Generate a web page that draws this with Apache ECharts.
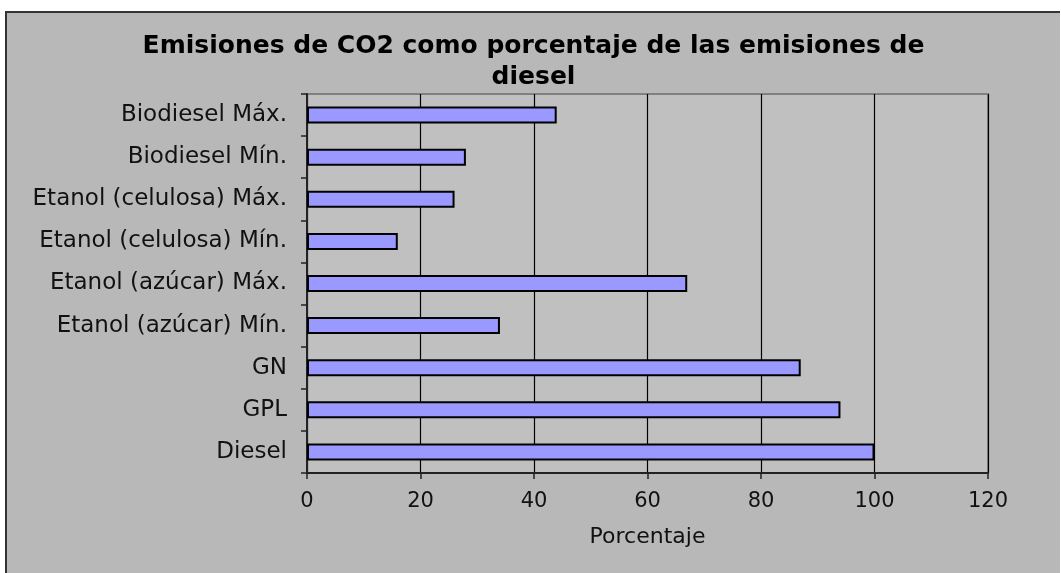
<!DOCTYPE html>
<html>
<head>
<meta charset="utf-8">
<title>Emisiones de CO2</title>
<script src="https://cdn.jsdelivr.net/npm/echarts@6/dist/echarts.min.js"></script>
<style>
  html, body { margin: 0; padding: 0; background: #fff; overflow: hidden; }
  /* marco exterior del gráfico */
  #frame {
    position: absolute; left: 5px; top: 11px;
    width: 1053px; height: 560px;
    border-top: 2px solid #333; border-left: 2px solid #333;
    border-right: none; border-bottom: none;
    background: #b8b8b8; overflow: hidden;
  }
  #chart { width: 1053px; height: 560px; }
</style>
</head>
<body>
<div id="frame"><div id="chart"></div></div>
<script>
  //categorias (de arriba a abajo)
  var categorias = [
    'Biodiesel Máx.', 'Biodiesel Mín.',
    'Etanol (celulosa) Máx.', 'Etanol (celulosa) Mín.',
    'Etanol (azúcar) Máx.', 'Etanol (azúcar) Mín.',
    'GN', 'GPL', 'Diesel'
  ]
  //porcentaje respecto al diesel
  var porcentajes = [44, 28, 26, 16, 67, 34, 87, 94, 100]
  //eje x
  var ejeMin = 0
  var ejeMax = 120
  var ejePaso = 20

  var fuente = 'DejaVu Sans'
  var myChart = echarts.init(document.getElementById('chart'))

  var option = {
    backgroundColor: 'transparent',
    animation: false,
    title: {
      text: 'Emisiones de CO2 como porcentaje de las emisiones de\ndiesel',
      left: 'center',
      top: 13,
      textStyle: {
        fontFamily: fuente,
        fontWeight: 'bold',
        fontSize: 25,
        lineHeight: 31,
        color: '#000'
      }
    },
    grid: {
      left: 300,
      top: 81,
      width: 681,
      height: 379,
      show: true,
      backgroundColor: '#c0c0c0',
      borderColor: '#808080',
      borderWidth: 2
    },
    xAxis: {
      type: 'value',
      min: ejeMin,
      max: ejeMax,
      interval: ejePaso,
      name: 'Porcentaje',
      nameLocation: 'middle',
      nameGap: 53,
      nameTextStyle: { fontFamily: fuente, fontSize: 22, color: '#111' },
      axisLine: { show: true, lineStyle: { color: '#222', width: 2 } },
      axisTick: { show: true, length: 6, lineStyle: { color: '#222', width: 1.5 } },
      axisLabel: { fontFamily: fuente, fontSize: 21, color: '#111', margin: 18 },
      splitLine: { show: true, lineStyle: { color: '#000', width: 1.2 } }
    },
    yAxis: {
      type: 'category',
      inverse: true,
      data: categorias,
      axisLine: { show: true, lineStyle: { color: '#222', width: 2 } },
      axisTick: { show: true, length: 6, lineStyle: { color: '#222', width: 1.5 } },
      axisLabel: { fontFamily: fuente, fontSize: 23, color: '#111', margin: 20 },
      splitLine: { show: false }
    },
    series: [
      {
        type: 'bar',
        data: porcentajes,
        barWidth: 17,
        itemStyle: {
          color: '#9999ff',
          borderColor: '#000',
          borderWidth: 2
        }
      }
    ]
  }

  myChart.setOption(option)
</script>
</body>
</html>
